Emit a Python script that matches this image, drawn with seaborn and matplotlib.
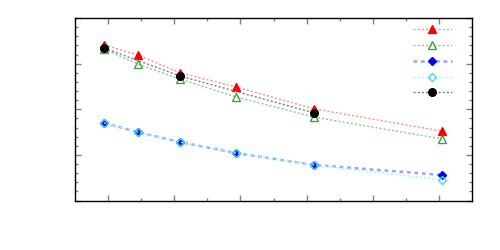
import pandas as pd
import matplotlib.pyplot as plt
import seaborn as sns
from matplotlib.lines import Line2D

sns.set_theme(style="white")

# valores
x_todos = [0.88, 1.90, 3.17, 4.87, 7.22, 11.09]
x_negro = [0.88, 3.17, 7.22]

rojo = [3.41, 3.19, 2.80, 2.49, 2.01, 1.52]
verde = [3.32, 2.99, 2.66, 2.27, 1.83, 1.35]
azul = [1.70, 1.50, 1.28, 1.04, 0.78, 0.56]
cian = [1.70, 1.50, 1.28, 1.04, 0.78, 0.45]
negro = [3.34, 2.73, 1.92]

series = [
    # (x, y, color linea, color marcador, marcador, relleno, tamaño, grosor)
    (x_todos, rojo, '#ff9090', 'red', '^', 'red', 5.2, 1.0),
    (x_todos, verde, '#90c890', '#40a040', '^', 'none', 5.2, 1.0),
    (x_todos, azul, '#a0a0ff', 'blue', 'D', 'blue', 3.8, 1.8),
    (x_todos, cian, '#90ffff', '#40e0e0', 'D', 'none', 4.2, 1.0),
    (x_negro, negro, '#808080', 'black', 'o', 'black', 5.5, 1.0),
]

fig = plt.figure(figsize=(5, 2.5), dpi=100)
ax = fig.add_axes([0.15, 0.198, 0.794, 0.730])

handles = []
for i, (xs, ys, lc, mc, mk, fc, ms, lw) in enumerate(series):
    df = pd.DataFrame({'x': xs, 'y': ys})
    sns.lineplot(data=df, x='x', y='y', ax=ax, color=lc, linestyle=(0, (1.5, 1.5)),
                 linewidth=lw, marker=mk, markersize=ms, markerfacecolor=fc,
                 markeredgecolor=mc, markeredgewidth=1.0, zorder=2 + i)
    handles.append(Line2D([], [], color=lc, linestyle=(0, (1.5, 1.5)), linewidth=lw,
                          marker=mk, markersize=ms, markerfacecolor=fc,
                          markeredgecolor=mc, markeredgewidth=1.0))

ax.set_xlim(0, 12)
ax.set_ylim(0, 4)
ax.set_xticks([1, 3, 5, 7, 9, 11])
ax.set_xticks([2, 4, 6, 8, 10], minor=True)
ax.set_yticks([0, 1, 2, 3, 4])
ax.set_yticks([v / 5 for v in range(21)], minor=True)
ax.set_xticklabels([])
ax.set_yticklabels([])
ax.set_xlabel('')
ax.set_ylabel('')
ax.tick_params(which='both', direction='in', top=True, right=True, color='#808080',
               bottom=True, left=True)
ax.tick_params(which='major', length=4, width=1)
ax.tick_params(which='minor', length=2, width=1)
for s in ax.spines.values():
    s.set_color('black')
    s.set_linewidth(1)

leg = ax.legend(handles, [''] * 5, loc='upper left', bbox_to_anchor=(0.84, 0.985),
                frameon=False, fontsize=8, handlelength=3.5, labelspacing=0.52,
                borderaxespad=0, handletextpad=0)

fig.savefig('out.png', dpi=100)
